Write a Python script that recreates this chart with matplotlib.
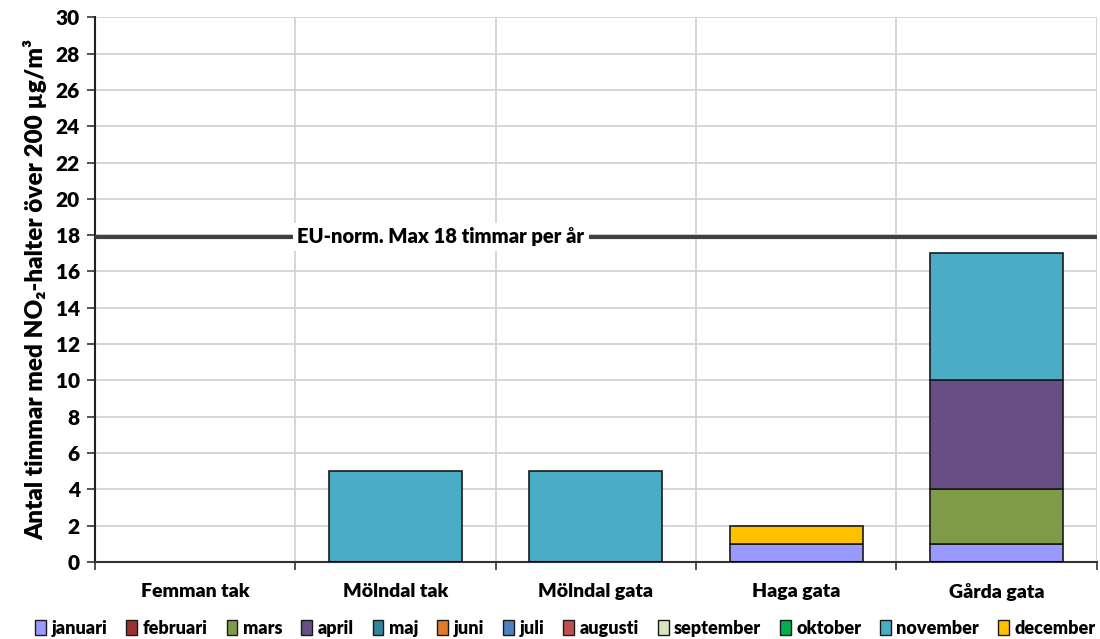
import matplotlib
matplotlib.use("Agg")
import matplotlib.pyplot as plt
from matplotlib.patches import Patch
import numpy as np

plt.rcParams['font.family'] = ['Lato', 'DejaVu Sans']
W = "heavy"
plt.rcParams['font.weight'] = W

stations = ["Femman tak", "Mölndal tak", "Mölndal gata", "Haga gata", "Gårda gata"]
months = ["januari", "februari", "mars", "april", "maj", "juni", "juli",
          "augusti", "september", "oktober", "november", "december"]
colors = ["#9999FF", "#993333", "#7F9A48", "#674F86", "#31859C", "#E07B2A",
          "#4F81BD", "#C0504D", "#D7E4BD", "#00B050", "#4BACC6", "#FFC000"]

# hours per month for each station
hours = {
    "januari":   [0, 0, 0, 1, 1],
    "februari":  [0, 0, 0, 0, 0],
    "mars":      [0, 0, 0, 0, 3],
    "april":     [0, 0, 0, 0, 6],
    "maj":       [0, 0, 0, 0, 0],
    "juni":      [0, 0, 0, 0, 0],
    "juli":      [0, 0, 0, 0, 0],
    "augusti":   [0, 0, 0, 0, 0],
    "september": [0, 0, 0, 0, 0],
    "oktober":   [0, 0, 0, 0, 0],
    "november":  [0, 5, 5, 0, 7],
    "december":  [0, 0, 0, 1, 0],
}
eu_limit = 18
yticks = list(range(0, 31, 2))

fig = plt.figure(figsize=(11, 6.39), dpi=100)
ax = fig.add_axes([0.0864, 0.1205, 0.9106, 0.8525])

x = np.arange(len(stations))
bottom = np.zeros(len(stations))
for m, c in zip(months, colors):
    vals = np.array(hours[m], dtype=float)
    draw = vals > 0
    ax.bar(x[draw], vals[draw], width=0.665, bottom=bottom[draw], color=c,
           edgecolor="#1a1a1a", linewidth=1.2, zorder=3)
    bottom += vals
# empty monthly segments collapse onto the baseline as a dark outline
for i in range(1, len(stations)):
    ax.plot([i - 0.3325, i + 0.3325], [0, 0], color="black", lw=2.2, zorder=4,
            solid_capstyle="butt")

ax.set_xlim(-0.5, len(stations) - 0.5)
ax.set_ylim(0, 30)
ax.set_yticks(yticks)
ax.tick_params(axis="y", labelsize=15, direction="out", length=6, width=1.2,
               color="#333333", pad=5)
for lab in ax.get_yticklabels():
    lab.set_fontweight(W)

ax.set_xticks(x)
ax.set_xticklabels(stations, fontsize=14, fontweight=W)
ax.tick_params(axis="x", length=0, pad=15)
ax.set_xticks(np.arange(-0.5, len(stations), 1.0), minor=True)
ax.tick_params(axis="x", which="minor", length=6, width=1.2, color="#333333",
               direction="out")

ax.grid(axis="y", color="#d0d0d0", lw=1.2, zorder=0)
for b in np.arange(0.5, len(stations), 1.0):
    ax.axvline(b, color="#d0d0d0", lw=1.2, zorder=0)

for s in ["top", "right"]:
    ax.spines[s].set_visible(False)
ax.spines["left"].set_color("#222222")
ax.spines["left"].set_linewidth(1.5)
ax.spines["bottom"].set_color("#333333")
ax.spines["bottom"].set_linewidth(1.5)

ax.axhline(eu_limit - 0.1, color="#404040", lw=3, zorder=5)
ax.text(0.51, eu_limit - 0.1, "EU-norm. Max 18 timmar per år", fontsize=14.5,
        fontweight=W, ha="left", va="center", zorder=6,
        bbox=dict(facecolor="white", edgecolor="none", pad=3))

ax.set_ylabel("Antal timmar med NO₂-halter över 200 µg/m³", fontsize=17.5,
              fontweight=W, labelpad=6)

handles = [Patch(facecolor=c, edgecolor="#1a1a1a", lw=1.0) for c in colors]
fig.legend(handles, months, loc="lower center", ncol=12, frameon=False,
           bbox_to_anchor=(0.514, -0.022), handlelength=0.6,
           handleheight=0.9, handletextpad=0.3, columnspacing=1.05,
           prop={"weight": W, "size": 13})

fig.savefig("out.png", dpi=100)
